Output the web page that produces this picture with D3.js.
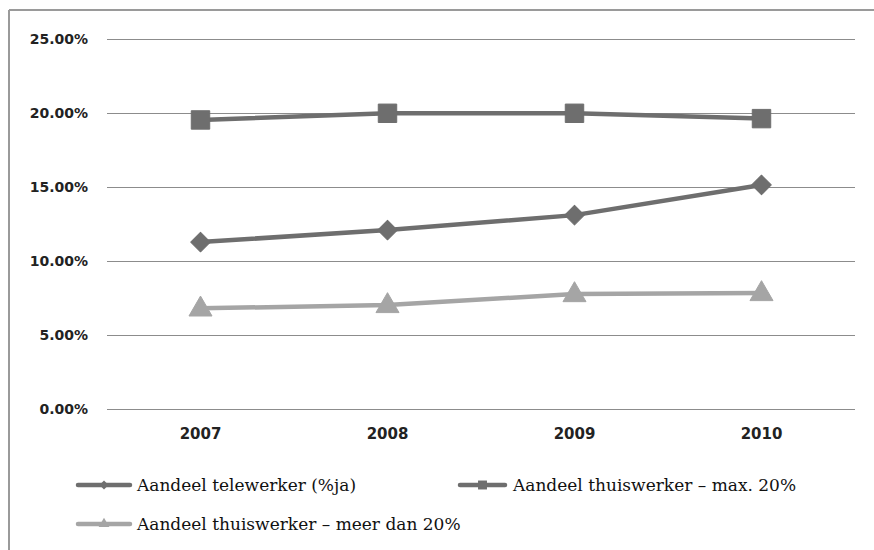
<!DOCTYPE html>
<html>
<head>
<meta charset="utf-8">
<script src="https://cdn.jsdelivr.net/npm/d3@7"></script>
<style>
  html, body { margin: 0; padding: 0; background: #fff; }
  svg { display: block; }
</style>
</head>
<body>
<svg id="chart" width="874" height="550"></svg>
<script>
// Aandeel tele- en thuiswerkers per jaar
const years = ["2007", "2008", "2009", "2010"];
const telewerker = [0.1128, 0.1209, 0.1310, 0.1514];
const thuisMax20 = [0.1953, 0.1998, 0.1998, 0.1962];
const thuisMeer20 = [0.0680, 0.0703, 0.0777, 0.0784];
const yTicks = [0, 0.05, 0.10, 0.15, 0.20, 0.25];

const seriesNames = [
  "Aandeel telewerker (%ja)",
  "Aandeel thuiswerker \u2013 max. 20%",
  "Aandeel thuiswerker \u2013 meer dan 20%"
];

const series = [
  { name: seriesNames[0], values: telewerker, color: "#6e6e6e", marker: "diamond" },
  { name: seriesNames[1], values: thuisMax20, color: "#6e6e6e", marker: "square" },
  { name: seriesNames[2], values: thuisMeer20, color: "#a5a5a5", marker: "triangle" }
];

const svg = d3.select("#chart");
const W = 874, H = 550;
const plot = { left: 107, right: 855, top: 39, bottom: 409 };

// outer frame (left and top edges visible)
svg.append("line").attr("x1", 9).attr("x2", 9).attr("y1", 10).attr("y2", H)
  .attr("stroke", "#9a9a9a").attr("stroke-width", 2);
svg.append("line").attr("x1", 9).attr("x2", W).attr("y1", 10).attr("y2", 10)
  .attr("stroke", "#9a9a9a").attr("stroke-width", 2);

const x = d3.scaleBand().domain(years).range([plot.left, plot.right]);
const y = d3.scaleLinear().domain([0, 0.25]).range([plot.bottom, plot.top]);

// horizontal gridlines
svg.append("g").selectAll("line").data(yTicks).join("line")
  .attr("x1", plot.left).attr("x2", plot.right)
  .attr("y1", d => Math.round(y(d)) + 0.5).attr("y2", d => Math.round(y(d)) + 0.5)
  .attr("stroke", "#8c8c8c").attr("stroke-width", 1);

// y axis labels
const yAxis = d3.axisLeft(y).tickValues(yTicks)
  .tickFormat(d => (d * 100).toFixed(2) + "%").tickSize(0).tickPadding(0);
const yg = svg.append("g").attr("transform", `translate(${plot.left - 19},0)`).call(yAxis);
yg.select(".domain").remove();
yg.selectAll("text")
  .attr("font-family", "'DejaVu Sans', sans-serif").attr("font-size", 14)
  .attr("font-weight", "bold").attr("fill", "#222");

// x axis labels
const xAxis = d3.axisBottom(x).tickSize(0).tickPadding(0);
const xg = svg.append("g").attr("transform", `translate(0,${plot.bottom + 19})`).call(xAxis);
xg.select(".domain").remove();
xg.selectAll("text")
  .attr("font-family", "'DejaVu Sans', sans-serif").attr("font-size", 15)
  .attr("font-weight", "bold").attr("fill", "#222");

const cx = i => x(years[i]) + x.bandwidth() / 2;

const symbolFor = {
  diamond: d3.symbol().type(d3.symbolSquare).size(190),
  square: d3.symbol().type(d3.symbolSquare).size(340),
  triangle: d3.symbol().type(d3.symbolTriangle).size(230)
};
const rotFor = { diamond: 45, square: 0, triangle: 0 };

const line = d3.line().x((d, i) => cx(i)).y(d => y(d));

series.forEach(s => {
  const g = svg.append("g");
  g.append("path").datum(s.values)
    .attr("d", line).attr("fill", "none")
    .attr("stroke", s.color).attr("stroke-width", 4.5)
    .attr("stroke-linejoin", "round");
  g.selectAll("path.m").data(s.values).join("path").attr("class", "m")
    .attr("d", symbolFor[s.marker])
    .attr("transform", (d, i) => {
      const dy = s.marker === "triangle" ? 1 : 0;
      return `translate(${cx(i)},${y(d) + dy}) rotate(${rotFor[s.marker]})`;
    })
    .attr("fill", s.color).attr("stroke", s.color).attr("stroke-width", 1)
    .attr("stroke-linejoin", "round");
});

// legend
const legendPos = [
  { x: 78, y: 485, len: 52, tx: 137 },
  { x: 460, y: 485, len: 45, tx: 513 },
  { x: 78, y: 524, len: 52, tx: 137 }
];
const legendSym = {
  diamond: d3.symbol().type(d3.symbolSquare).size(40),
  square: d3.symbol().type(d3.symbolSquare).size(80),
  triangle: d3.symbol().type(d3.symbolTriangle).size(50)
};
series.forEach((s, i) => {
  const p = legendPos[i];
  const g = svg.append("g");
  g.append("line").attr("x1", p.x).attr("x2", p.x + p.len)
    .attr("y1", p.y).attr("y2", p.y)
    .attr("stroke", s.color).attr("stroke-width", 4.5).attr("stroke-linecap", "round");
  g.append("path").attr("d", legendSym[s.marker])
    .attr("transform", `translate(${p.x + p.len / 2},${p.y}) rotate(${rotFor[s.marker]})`)
    .attr("fill", s.color);
  g.append("text").attr("x", p.tx).attr("y", p.y + 6)
    .attr("font-family", "'DejaVu Serif', serif").attr("font-size", 17)
    .attr("fill", "#111").text(s.name);
});
</script>
</body>
</html>
